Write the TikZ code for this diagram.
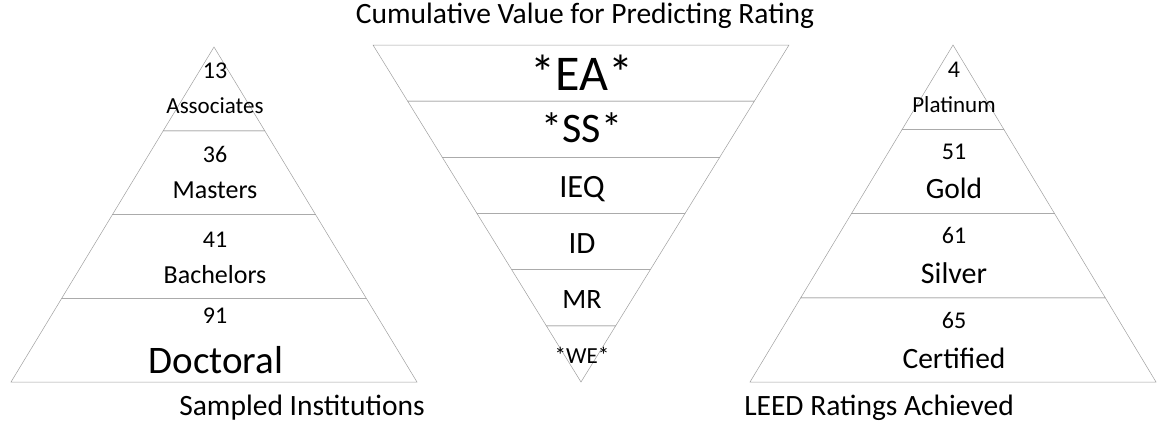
\documentclass[tikz,border=0pt]{standalone}
\usepackage{fontspec}
\setmainfont{Carlito}
\usepackage{tikz}
\usetikzlibrary{positioning,calc}

\begin{document}
\begin{tikzpicture}[x=1pt, y=-1pt,
	layer/.style={draw=gray!75, line width=0.5pt, line join=miter},
	txt/.style={anchor=base, inner sep=0pt, align=center},
	fsz/.style={font=\fontsize{#1}{#1}\selectfont}
	]
	\useasboundingbox (0,0) rectangle (1158,423);
	% left pyramid: apex (214,47), base y=382
	\foreach \i in {0,1,2,3} {
		\pgfmathsetmacro{\fa}{\i/4}
		\pgfmathsetmacro{\fb}{(\i+1)/4}
		\draw[layer] ({214-203*\fa},{47+335*\fa}) -- ({214+203*\fa},{47+335*\fa})
			-- ({214+203*\fb},{47+335*\fb}) -- ({214-203*\fb},{47+335*\fb}) -- cycle;
	}
	% right pyramid: apex (953,45), base y=382
	\foreach \i in {0,1,2,3} {
		\pgfmathsetmacro{\fa}{\i/4}
		\pgfmathsetmacro{\fb}{(\i+1)/4}
		\draw[layer] ({953-203*\fa},{45+337*\fa}) -- ({953+203*\fa},{45+337*\fa})
			-- ({953+203*\fb},{45+337*\fb}) -- ({953-203*\fb},{45+337*\fb}) -- cycle;
	}
	% inverted pyramid: top y=45, apex (581,382)
	\foreach \i in {0,...,5} {
		\pgfmathsetmacro{\ga}{\i/6}
		\pgfmathsetmacro{\gb}{(\i+1)/6}
		\draw[layer] ({581-208*(1-\ga)},{45+337*\ga}) -- ({581+208*(1-\ga)},{45+337*\ga})
			-- ({581+208*(1-\gb)},{45+337*\gb}) -- ({581-208*(1-\gb)},{45+337*\gb}) -- cycle;
	}

	% titles
	\node[txt, fsz=29.5] (title) at (585,23) {Cumulative Value for Predicting Rating};
	\node[txt, fsz=29.5] (inst) at (302,415) {Sampled Institutions};
	\node[txt, fsz=29.5] (leed) at (879,415) {LEED Ratings Achieved};

	% institutions
	\node[txt, fsz=24] (n13) at (215,78) {13};
	\node[txt, fsz=23] (assoc) at (215,113) {Associates};
	\node[txt, fsz=24] (n36) at (215,162) {36};
	\node[txt, fsz=26] (mast) at (215,198) {Masters};
	\node[txt, fsz=24] (n41) at (215,247) {41};
	\node[txt, fsz=26] (bach) at (215,283) {Bachelors};
	\node[txt, fsz=24] (n91) at (215,323) {91};
	\node[txt, fsz=39] (doct) at (216,373) {Doctoral};

	% credit categories
	\node[txt, fsz=50] (ea) at (582,90) {*EA*};
	\node[txt, fsz=42] (ss) at (582,142) {*SS*};
	\node[txt, fsz=32.5] (ieq) at (582,197) {IEQ};
	\node[txt, fsz=31] (id) at (582,253) {ID};
	\node[txt, fsz=28] (mr) at (582,308) {MR};
	\node[txt, fsz=23] (we) at (582,363) {*WE*};

	% ratings
	\node[txt, fsz=24] (n4) at (954,77) {4};
	\node[txt, fsz=23] (plat) at (954,112) {Platinum};
	\node[txt, fsz=24] (n51) at (954,159) {51};
	\node[txt, fsz=29.5] (gold) at (954,198) {Gold};
	\node[txt, fsz=24] (n61) at (954,243) {61};
	\node[txt, fsz=30] (silv) at (954,283) {Silver};
	\node[txt, fsz=24] (n65) at (954,328) {65};
	\node[txt, fsz=29.5] (cert) at (954,368) {Certified};
\end{tikzpicture}
\end{document}
